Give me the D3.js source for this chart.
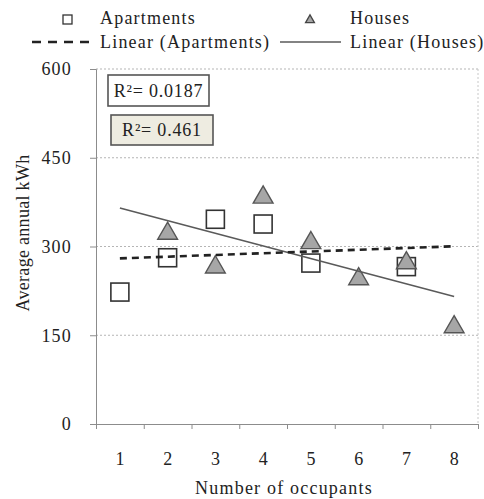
<!DOCTYPE html>
<html>
<head>
<meta charset="utf-8">
<script src="https://cdn.jsdelivr.net/npm/d3@7"></script>
<style>
  html, body { margin: 0; padding: 0; background: #fff; }
  svg text { font-family: "Liberation Serif", "Times New Roman", serif; fill: #222; }
</style>
</head>
<body>
<svg id="chart" width="484" height="499"></svg>
<script>
// Average annual kWh by number of occupants
const occupants = [1, 2, 3, 4, 5, 6, 7, 8];
const apartments = [223, 281, 346, 338, 272, null, 266, null];
const houses = [null, 322, 265, 383, 306, 245, 272, 164];
const yTicks = [0, 150, 300, 450, 600];
const r2Labels = ["R\u00B2= 0.0187", "R\u00B2= 0.461"];
const legendLabels = ["Apartments", "Houses", "Linear (Apartments)", "Linear (Houses)"];

const svg = d3.select("#chart");
const plot = { left: 96, right: 478, top: 69, bottom: 424 };

const x = d3.scaleLinear().domain([0.5, 8.5]).range([plot.left, plot.right]);
const y = d3.scaleLinear().domain([0, 600]).range([plot.bottom, plot.top]);

// gridlines (dotted)
svg.append("g").selectAll("line").data(yTicks.filter(v => v > 0)).join("line")
  .attr("x1", plot.left).attr("x2", plot.right)
  .attr("y1", d => y(d)).attr("y2", d => y(d))
  .attr("stroke", "#b5b5b5").attr("stroke-width", 1).attr("stroke-dasharray", "2,2");
// right edge
svg.append("line").attr("x1", plot.right).attr("x2", plot.right)
  .attr("y1", plot.top).attr("y2", plot.bottom)
  .attr("stroke", "#c8c8c8").attr("stroke-dasharray", "2,2");

// y axis
const yAxis = d3.axisLeft(y).tickValues(yTicks).tickSize(6).tickPadding(18).tickFormat(d3.format("d"));
const gy = svg.append("g").attr("transform", `translate(${plot.left},0)`).call(yAxis);
gy.select(".domain").attr("stroke", "#8c8c8c");
gy.selectAll(".tick line").attr("stroke", "#8c8c8c");
gy.selectAll(".tick text").attr("font-size", 18).attr("letter-spacing", 1.2).attr("fill", "#222");

// x axis: ticks at category boundaries, labels at category centres
const bounds = d3.range(0.5, 9, 1);
const xAxis = d3.axisBottom(x).tickValues(bounds).tickSize(5).tickFormat("");
const gx = svg.append("g").attr("transform", `translate(0,${plot.bottom})`).call(xAxis);
gx.select(".domain").attr("stroke", "#8c8c8c");
gx.selectAll(".tick line").attr("stroke", "#8c8c8c");
svg.append("g").selectAll("text").data(occupants).join("text")
  .attr("x", d => x(d)).attr("y", 465)
  .attr("text-anchor", "middle").attr("font-size", 18)
  .text(d => d);

// axis titles
svg.append("text").attr("x", (plot.left + plot.right) / 2 - 3).attr("y", 494)
  .attr("text-anchor", "middle").attr("font-size", 18).attr("letter-spacing", 1.2)
  .text("Number of occupants");
svg.append("text").attr("transform", "translate(29,233) rotate(-90)")
  .attr("text-anchor", "middle").attr("font-size", 18).attr("letter-spacing", 0.3)
  .text("Average annual kWh");

// linear trendlines (least squares)
function fit(vals) {
  const pts = occupants.map((o, i) => [o, vals[i]]).filter(p => p[1] != null);
  const mx = d3.mean(pts, p => p[0]), my = d3.mean(pts, p => p[1]);
  const sxy = d3.sum(pts, p => (p[0] - mx) * (p[1] - my));
  const sxx = d3.sum(pts, p => (p[0] - mx) ** 2);
  const b = sxy / sxx, a = my - b * mx;
  return t => a + b * t;
}
const fA = fit(apartments), fH = fit(houses);
const ends = [occupants[0], occupants[occupants.length - 1]];
const line = d3.line().x(d => x(d[0])).y(d => y(d[1]));

// markers
const sq = 18;
svg.append("g").selectAll("rect")
  .data(occupants.map((o, i) => [o, apartments[i]]).filter(p => p[1] != null))
  .join("rect")
  .attr("x", d => x(d[0]) - sq / 2).attr("y", d => y(d[1]) - sq / 2)
  .attr("width", sq).attr("height", sq)
  .attr("fill", "#fff").attr("stroke", "#333").attr("stroke-width", 1.6);

const tri = d3.symbol().type(d3.symbolTriangle).size(170);
svg.append("g").selectAll("path")
  .data(occupants.map((o, i) => [o, houses[i]]).filter(p => p[1] != null))
  .join("path")
  .attr("d", tri)
  .attr("transform", d => `translate(${x(d[0])},${y(d[1])})`)
  .attr("fill", "#a6a6a6").attr("stroke", "#555").attr("stroke-width", 1.4);

svg.append("path").datum(ends.map(t => [t, fH(t)])).attr("d", line)
  .attr("fill", "none").attr("stroke", "#5a5a5a").attr("stroke-width", 1.6);
svg.append("path").datum(ends.map(t => [t, fA(t)])).attr("d", line)
  .attr("fill", "none").attr("stroke", "#222").attr("stroke-width", 2.6)
  .attr("stroke-dasharray", "7,5");

// R² boxes
const boxes = [
  { x: 108, y: 75, w: 101, h: 31, fill: "#ffffff" },
  { x: 111, y: 115, w: 102, h: 30, fill: "#eeece1" }
];
boxes.forEach((b, i) => {
  svg.append("rect").attr("x", b.x).attr("y", b.y).attr("width", b.w).attr("height", b.h)
    .attr("fill", b.fill).attr("stroke", "#555").attr("stroke-width", 1.6);
  svg.append("text").attr("x", b.x + b.w / 2).attr("y", b.y + b.h / 2 + 6)
    .attr("text-anchor", "middle").attr("font-size", 18).attr("letter-spacing", 0.8)
    .text(r2Labels[i]);
});

// legend
const lg = svg.append("g");
lg.append("rect").attr("x", 63).attr("y", 15).attr("width", 9).attr("height", 9)
  .attr("fill", "#fff").attr("stroke", "#333").attr("stroke-width", 1.3);
lg.append("path").attr("d", d3.symbol().type(d3.symbolTriangle).size(34))
  .attr("transform", "translate(310,20)")
  .attr("fill", "#a6a6a6").attr("stroke", "#444").attr("stroke-width", 1.3);
lg.append("line").attr("x1", 32).attr("x2", 91).attr("y1", 42).attr("y2", 42)
  .attr("stroke", "#222").attr("stroke-width", 2.4).attr("stroke-dasharray", "9,7");
lg.append("line").attr("x1", 280).attr("x2", 341).attr("y1", 42).attr("y2", 42)
  .attr("stroke", "#5a5a5a").attr("stroke-width", 1.3);
const legPos = [[100, 24], [350, 24], [100, 48], [350, 48]];
lg.selectAll("text").data(legendLabels).join("text")
  .attr("x", (d, i) => legPos[i][0]).attr("y", (d, i) => legPos[i][1])
  .attr("font-size", 18).attr("letter-spacing", 1.2)
  .text(d => d);
</script>
</body>
</html>
